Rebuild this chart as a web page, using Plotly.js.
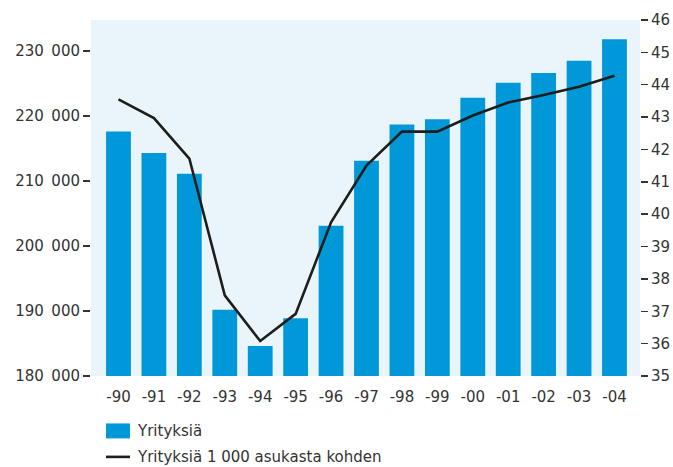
<!DOCTYPE html>
<html>
<head>
<meta charset="utf-8">
<script src="https://cdn.plot.ly/plotly-3.0.1.min.js"></script>
<style>html,body{margin:0;padding:0;background:#fff;}#chart{width:673px;height:467px;}</style>
</head>
<body>
<div id="chart"></div>
<script>
const years = ["-90","-91","-92","-93","-94","-95","-96","-97","-98","-99","-00","-01","-02","-03","-04"];
const companies = [217600, 214300, 211100, 190200, 184600, 188900, 203100, 213100, 218700, 219500, 222800, 225100, 226600, 228500, 231800];
const perThousand = [43.55, 42.97, 41.72, 37.49, 36.08, 36.92, 39.75, 41.5, 42.55, 42.55, 43.05, 43.45, 43.68, 43.94, 44.28];
const leftTicks = [180000, 190000, 200000, 210000, 220000, 230000];
const leftTickLabels = ["180\u2002000", "190\u2002000", "200\u2002000", "210\u2002000", "220\u2002000", "230\u2002000"];
const rightTicks = [35, 36, 37, 38, 39, 40, 41, 42, 43, 44, 45, 46];
const seriesNames = ["Yrityksiä", "Yrityksiä 1 000 asukasta kohden"];

const fontFam = "'DejaVu Sans', Verdana, sans-serif";
const txtColor = "#333333";
const barColor = "#0098d8";
const lineColor = "#1d1d1b";

// plot area in pixels (for placing the legend built from shapes/annotations)
const PL = 91, PR = 640, PT = 20, PB = 376.5;
const px = v => (v - PL) / (PR - PL);
const py = v => (PB - v) / (PB - PT);

const traces = [
  {
    type: "bar", x: years, y: companies, name: seriesNames[0],
    marker: {color: barColor}, width: 0.7, yaxis: "y", showlegend: false
  },
  {
    type: "scatter", mode: "lines", x: years, y: perThousand, name: seriesNames[1],
    line: {color: lineColor, width: 2.6}, yaxis: "y2", showlegend: false
  }
];

const layout = {
  width: 673, height: 467,
  margin: {l: PL, r: 673 - PR, t: PT, b: 467 - PB, pad: 0, autoexpand: false},
  paper_bgcolor: "#ffffff",
  plot_bgcolor: "#eaf5fb",
  font: {family: fontFam, size: 15, color: txtColor},
  showlegend: false,
  xaxis: {
    type: "category", range: [-0.776, 14.72],
    showgrid: false, zeroline: false, showline: false,
    ticks: "outside", ticklen: 7, tickcolor: "rgba(0,0,0,0)",
    tickfont: {family: fontFam, size: 15, color: txtColor}
  },
  yaxis: {
    range: [180000, 234770],
    tickvals: leftTicks, ticktext: leftTickLabels,
    showgrid: false, zeroline: false, showline: false,
    ticks: "outside", ticklen: 7, tickwidth: 1.5, tickcolor: "#333333",
    tickfont: {family: fontFam, size: 15, color: txtColor}
  },
  yaxis2: {
    overlaying: "y", side: "right",
    range: [35, 46], tickvals: rightTicks,
    showgrid: false, zeroline: false, showline: false,
    ticks: "outside", ticklen: 7, tickwidth: 1.5, tickcolor: "#333333",
    tickfont: {family: fontFam, size: 15, color: txtColor}
  },
  shapes: [
    {type: "rect", xref: "paper", yref: "paper", x0: px(106), x1: px(130), y0: py(439), y1: py(424),
     fillcolor: barColor, line: {width: 0}},
    {type: "line", xref: "paper", yref: "paper", x0: px(106), x1: px(130), y0: py(457.5), y1: py(457.5),
     line: {color: lineColor, width: 2.6}}
  ],
  annotations: [
    {xref: "paper", yref: "paper", x: px(135), y: py(431.5), xanchor: "left", yanchor: "middle",
     text: seriesNames[0], showarrow: false, font: {family: fontFam, size: 15, color: txtColor}},
    {xref: "paper", yref: "paper", x: px(135), y: py(457.5), xanchor: "left", yanchor: "middle",
     text: seriesNames[1], showarrow: false, font: {family: fontFam, size: 15, color: txtColor}}
  ]
};

Plotly.newPlot("chart", traces, layout, {displayModeBar: false, staticPlot: true});
</script>
</body>
</html>
